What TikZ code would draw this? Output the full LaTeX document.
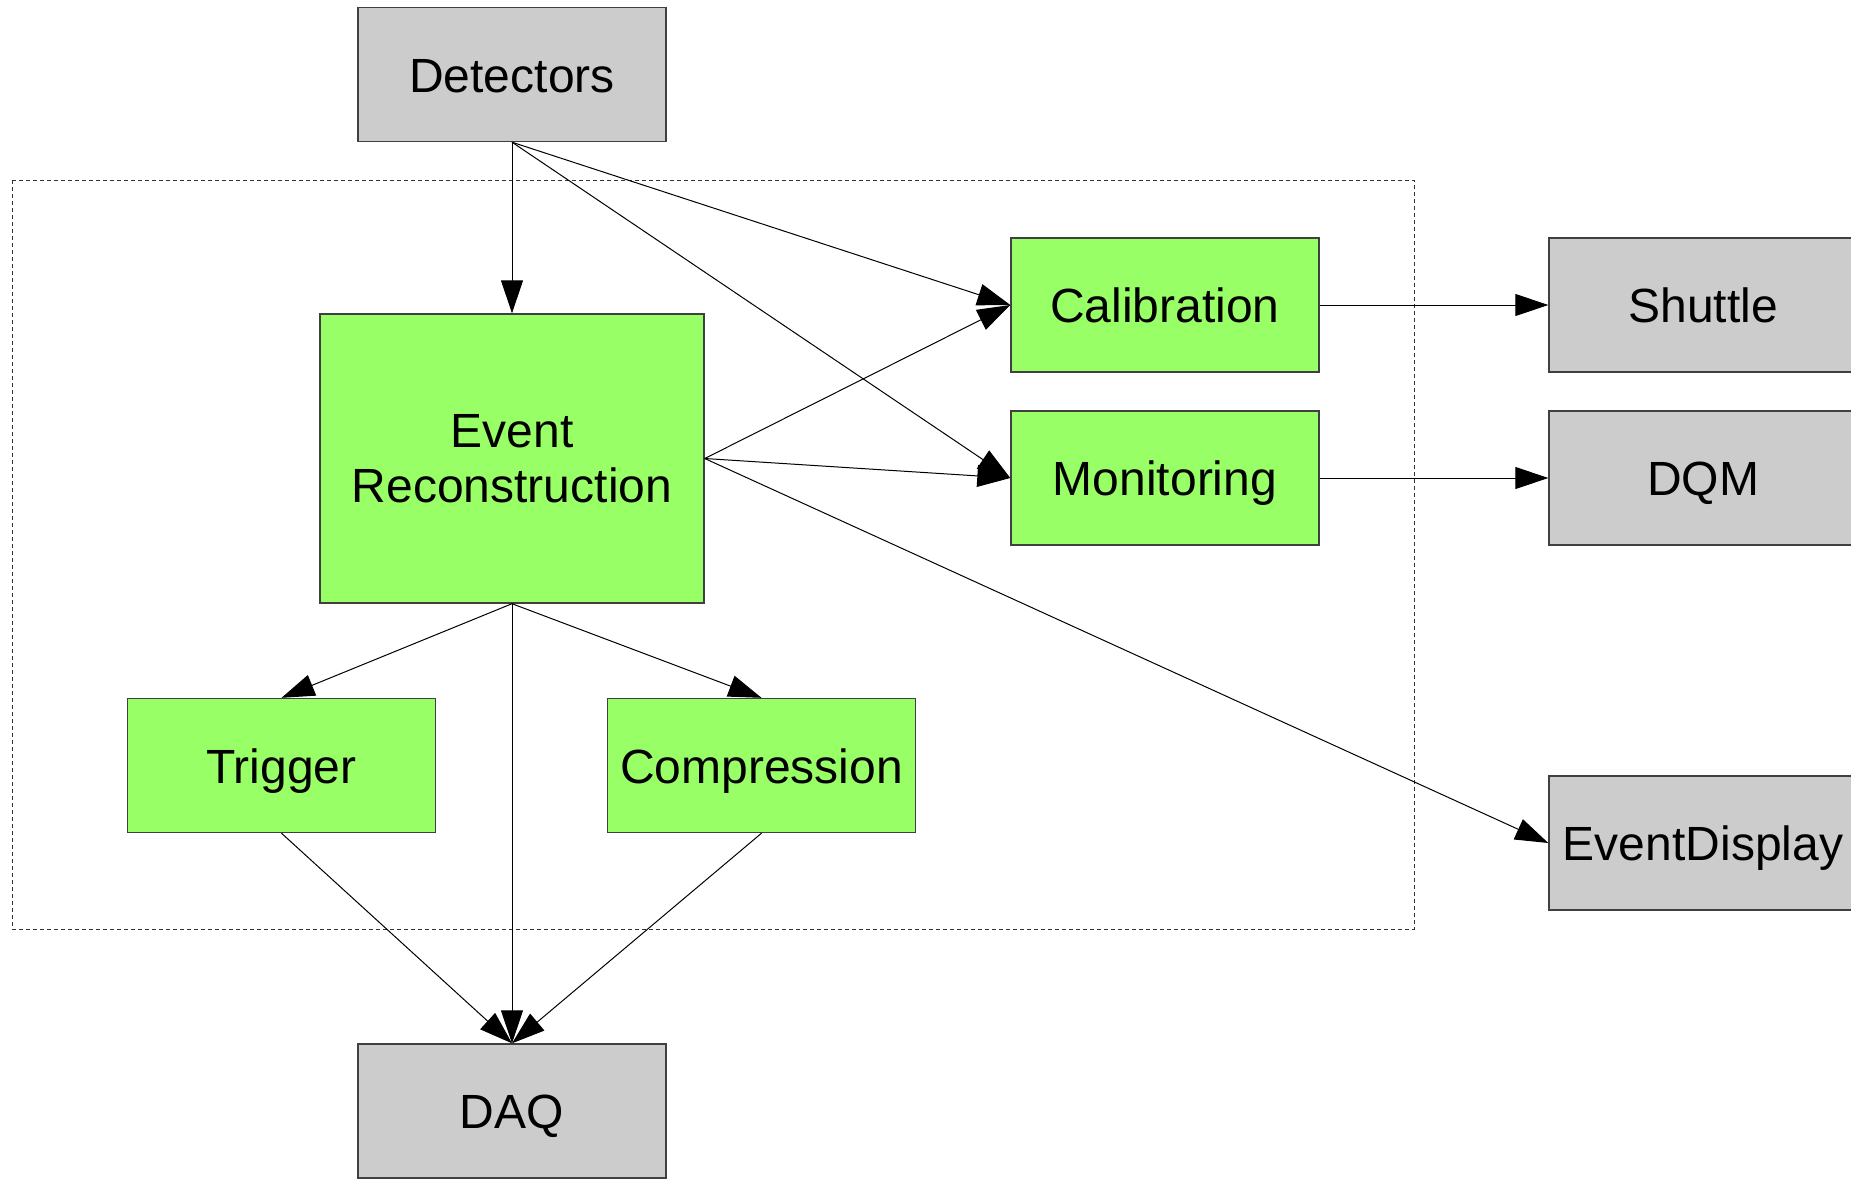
\documentclass[tikz,border=0pt]{standalone}
\usepackage{fontspec}
\setmainfont{Liberation Sans}
\usetikzlibrary{arrows.meta}
\definecolor{procgreen}{HTML}{99FF66}
\definecolor{extgray}{HTML}{CCCCCC}

\begin{document}
\begin{tikzpicture}[x=0.5pt,y=-0.5pt,
  base/.style={draw=black!75, line width=0.7pt, minimum width=154pt,
    minimum height=67pt, inner sep=0pt, align=center,
    font=\fontsize{24}{27.6}\selectfont},
  box/.style={base, text height=17.5pt, text depth=0pt},
  proc/.style={box, fill=procgreen},
  ext/.style={box, fill=extgray},
  flow/.style={-{Triangle[length=16.5pt,width=11pt]}, line width=0.5pt, black}]

\useasboundingbox (0,0) rectangle (1851,1179);
\clip (0,0) rectangle (1851,1179);

% processing stage frame
\draw[black!80, line width=0.5pt, dash pattern=on 2pt off 1.5pt]
  (12,180) rectangle (1414,929);

% external systems
\node[ext] (det)  at (512,74.5)  {Detectors};
\node[ext] (daq)  at (512,1111)  {DAQ};
\node[ext] (shut) at (1703,305)  {Shuttle};
\node[ext] (dqm)  at (1703,478)  {DQM};
\node[ext] (disp) at (1703,843)  {EventDisplay};

% processing components
\node[base, fill=procgreen, minimum width=192pt, minimum height=144.5pt]
  (reco) at (512,458.5) {Event\\Reconstruction};
\node[proc] (calib) at (1165,305)   {Calibration};
\node[proc] (mon)   at (1165,478)   {Monitoring};
\node[proc] (trig)  at (281.5,765.5) {Trigger};
\node[proc] (comp)  at (761.5,765.5) {Compression};

% data flow
\draw[flow] (det.south) -- (reco.north);
\draw[flow] (det.south) -- (calib.west);
\draw[flow] (det.south) -- (mon.west);
\draw[flow] (reco.east) -- (calib.west);
\draw[flow] (reco.east) -- (mon.west);
\draw[flow] (reco.east) -- (disp.west);
\draw[flow] (reco.south) -- (trig.north);
\draw[flow] (reco.south) -- (comp.north);
\draw[flow] (reco.south) -- (daq.north);
\draw[flow] (trig.south) -- (daq.north);
\draw[flow] (comp.south) -- (daq.north);
\draw[flow] (calib.east) -- (shut.west);
\draw[flow] (mon.east) -- (dqm.west);
\end{tikzpicture}
\end{document}
